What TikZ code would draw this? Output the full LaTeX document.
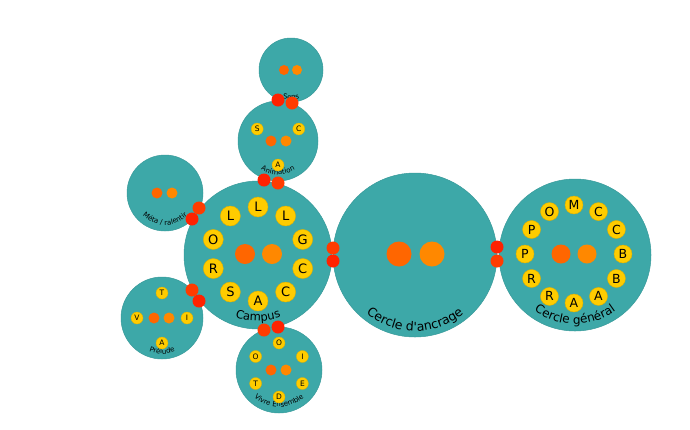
\documentclass[tikz,border=0pt]{standalone}
\usepackage{fontspec}
\setmainfont{DejaVu Sans}
\newfontfamily\lab{DejaVu Sans}
\usetikzlibrary{calc,decorations.text}
\definecolor{teal1}{HTML}{3DA8A8}
\definecolor{tealb}{HTML}{389A9A}
\definecolor{ora1}{HTML}{FF6600}
\definecolor{ora2}{HTML}{FF8800}
\definecolor{red1}{HTML}{FF2200}
\definecolor{red2}{HTML}{FF3C00}
\definecolor{yel}{HTML}{FFCC00}
\definecolor{yelb}{HTML}{E0B000}
\newcommand\arclabel[4]{\path[decorate, decoration={text along path, text align=center, text={|\lab\fontsize{#3}{#3}\selectfont|#4}}] ($(#1)+(190:#2)$) arc[start angle=190, end angle=350, radius=#2];}
\begin{document}
\begin{tikzpicture}[x=1pt,y=1pt,
  circ/.style={circle, fill=teal1, draw=tealb, line width=0.5pt, inner sep=0pt, outer sep=0pt, minimum size=#1},
  dotA/.style={circle, fill=ora1, inner sep=0pt, minimum size=#1},
  dotB/.style={circle, fill=ora2, inner sep=0pt, minimum size=#1},
  portA/.style={circle, fill=red1, inner sep=0pt, minimum size=13pt},
  portB/.style={circle, fill=red2, inner sep=0pt, minimum size=13pt},
  letL/.style={circle, fill=yel, draw=yelb, line width=0.4pt, inner sep=0pt, minimum size=20pt, font=\fontsize{13}{13}\selectfont},
  letM/.style={circle, fill=yel, draw=yelb, line width=0.4pt, inner sep=0pt, minimum size=18pt, font=\fontsize{12.5}{12.5}\selectfont},
  letS/.style={circle, fill=yel, draw=yelb, line width=0.3pt, inner sep=0pt, minimum size=12pt, font=\fontsize{7.5}{7.5}\selectfont},
]
\useasboundingbox (0,0) rectangle (690,-429);

% circles
\node[circ=64pt]  (top)     at (291,-70)  {};
\node[circ=80pt]  (anim)    at (278,-141) {};
\node[circ=76pt]  (meta)    at (165,-193) {};
\node[circ=148pt] (campus)  at (258,-255) {};
\node[circ=82pt]  (prelude) at (162,-318) {};
\node[circ=86pt]  (vivre)   at (279,-370) {};
\node[circ=164pt] (ancrage) at (415,-255) {};
\node[circ=152pt] (general) at (575,-255) {};

% labels along arcs
\arclabel{top}{29.5}{7}{Sens}
\arclabel{anim}{33.5}{7}{Animation}
\arclabel{meta}{32}{7}{Méta / ralentir}
\arclabel{campus}{66}{11.5}{Campus}
\arclabel{prelude}{36}{7}{Prélude}
\arclabel{vivre}{37}{7}{Vivre Ensemble}
\arclabel{ancrage}{76}{12.5}{Cercle d'ancrage}
\arclabel{general}{69}{12}{Cercle général}

% centre dots
\node[dotA=10pt] (topa) at (284,-70) {};
\node[dotB=10pt] (topb) at (297,-70) {};
\node[dotA=11pt] (anima) at (271,-141) {};
\node[dotB=11pt] (animb) at (286,-141) {};
\node[dotA=11pt] (metaa) at (157,-193) {};
\node[dotB=11pt] (metab) at (172,-193) {};
\node[dotA=20pt] (campa) at (245,-254) {};
\node[dotB=20pt] (campb) at (272,-254) {};
\node[dotA=11pt] (prela) at (154,-318) {};
\node[dotB=11pt] (prelb) at (169,-318) {};
\node[dotA=11pt] (vivra) at (271,-370) {};
\node[dotB=11pt] (vivrb) at (286,-370) {};
\node[dotA=25pt] (ancra) at (399,-254) {};
\node[dotB=25pt] (ancrb) at (432,-254) {};
\node[dotA=19pt] (gena) at (561,-254) {};
\node[dotB=19pt] (genb) at (587,-254) {};

% letters
\foreach \l [count=\i] in {L,L,G,C,C,A,S,R,O,L}
  \node[letL] (cl\i) at ($(258,-254)+({90-36*(\i-1)}:47)$) {\l};
\foreach \l [count=\i] in {M,C,C,B,B,A,A,R,R,P,P,O}
  \node[letM] (gl\i) at ($(574,-254)+({90-30*(\i-1)}:49)$) {\l};
\foreach \l/\a [count=\i] in {S/150,C/30,A/270}
  \node[letS] (al\i) at ($(278,-141)+(\a:24)$) {\l};
\foreach \l/\a [count=\i] in {T/90,I/0,A/270,V/180}
  \node[letS] (pl\i) at ($(162,-318)+(\a:25)$) {\l};
\foreach \l/\a [count=\i] in {O/90,I/30,E/-30,D/-90,T/-150,O/150}
  \node[letS] (vl\i) at ($(279,-370)+(\a:27)$) {\l};

% ports
\node[portB] (p1a) at (333,-248) {};
\node[portA] (p1b) at (333,-261) {};
\node[portA] (p2a) at (497,-247) {};
\node[portB] (p2b) at (497,-261) {};
\node[portA] (p3a) at (264,-180) {};
\node[portB] (p3b) at (278,-183) {};
\node[portA] (p4a) at (278,-100) {};
\node[portB] (p4b) at (292,-103) {};
\node[portB] (p5a) at (199,-208) {};
\node[portA] (p5b) at (192,-219) {};
\node[portB] (p6a) at (192,-290) {};
\node[portA] (p6b) at (199,-301) {};
\node[portB] (p7a) at (264,-330) {};
\node[portA] (p7b) at (278,-327) {};
\end{tikzpicture}
\end{document}
